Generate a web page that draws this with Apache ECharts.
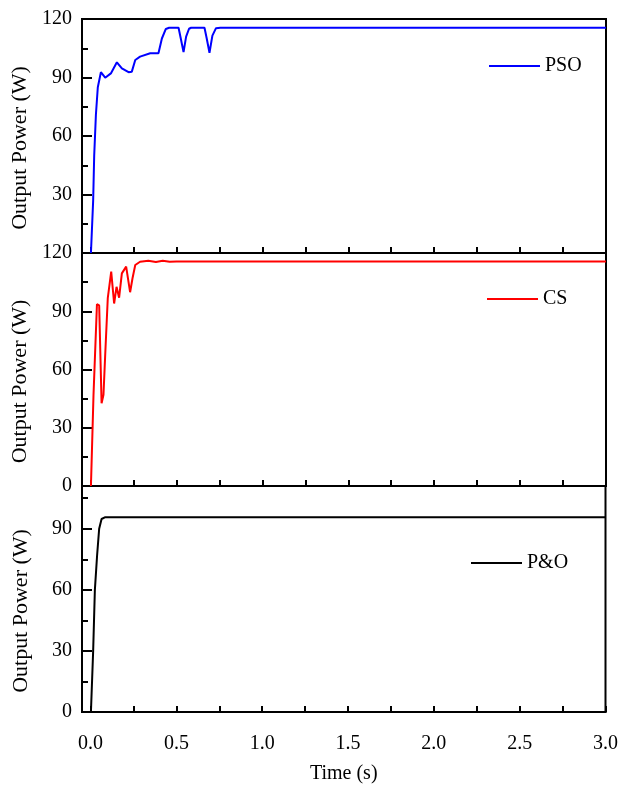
<!DOCTYPE html>
<html lang="en">
<head>
    <meta charset="UTF-8">
    <title>Output Power</title>
    <script src="https://cdn.jsdelivr.net/npm/echarts@6/dist/echarts.min.js"></script>
</head>
<style>
    html, body { margin: 0; padding: 0; background: #fff; }
    #chart { width: 621px; height: 785px; }
</style>
<body>
<div id="chart"></div>
<script type="text/javascript">
    // PSO
    var psoTime  = [0.002, 0.015, 0.021, 0.031, 0.042, 0.060, 0.085, 0.118, 0.153, 0.182, 0.221, 0.240, 0.260, 0.288, 0.347, 0.395, 0.415, 0.438, 0.457, 0.512, 0.525, 0.541, 0.556, 0.573, 0.585, 0.663, 0.676, 0.692, 0.709, 0.730, 0.755, 3.0];
    var psoPower = [0, 27, 50, 71, 85, 92.7, 89.9, 92.1, 97.8, 94.7, 92.7, 93, 99, 100.7, 102.4, 102.4, 110, 114.9, 115.5, 115.5, 110, 103, 111, 115, 115.5, 115.5, 110, 102.7, 111.5, 115.3, 115.5, 115.5];
    // CS
    var csTime  = [0.002, 0.017, 0.037, 0.050, 0.064, 0.075, 0.085, 0.100, 0.120, 0.137, 0.151, 0.166, 0.182, 0.207, 0.230, 0.244, 0.260, 0.288, 0.336, 0.380, 0.420, 0.460, 0.500, 3.0];
    var csPower = [0, 47, 93.6, 93, 42.6, 47, 67.5, 96.7, 110.4, 94, 102.6, 97, 109.5, 113, 99.8, 107, 113.8, 115.5, 116, 115.4, 116, 115.5, 115.6, 115.6];
    // P&O
    var poTime  = [0.002, 0.015, 0.025, 0.038, 0.050, 0.064, 0.083, 3.0];
    var poPower = [0, 30, 60, 77, 90, 94.8, 95.6, 95.6];

    var xLabels = [0, 0.5, 1.0, 1.5, 2.0, 2.5, 3.0];
    var xTicks = [0, 0.25, 0.5, 0.75, 1.0, 1.25, 1.5, 1.75, 2.0, 2.25, 2.5, 2.75, 3.0];
    var yMax = [120, 120, 111];
    var yMinor = [15, 45, 75, 105];

    var seriesNames = ['PSO', 'CS', 'P&O'];
    var seriesColors = ['#0000ff', '#ff0000', '#000000'];
    var seriesTime = [psoTime, csTime, poTime];
    var seriesPower = [psoPower, csPower, poPower];

    var font = 'Liberation Serif';
    var gridTops = [19, 253, 486];
    var gridHeights = [234, 233, 233];
    var legendPos = [[489, 56], [487, 289], [471, 553]];

    var grids = [], xAxes = [], yAxes = [], series = [], legends = [];
    for (var i = 0; i < 3; i++) {
        grids.push({
            left: 82, right: 15, top: gridTops[i], height: gridHeights[i],
            show: true, borderColor: '#000', borderWidth: 2, backgroundColor: 'transparent'
        });
        xAxes.push({
            gridIndex: i, type: 'value', min: -0.05, max: 3,
            axisLine: { show: true, onZero: false, lineStyle: { color: '#000', width: 2 } },
            axisTick: { show: true, inside: true, length: 6, customValues: xTicks, lineStyle: { color: '#000', width: 2 } },
            axisLabel: {
                show: i === 2, customValues: xLabels, margin: 22,
                fontFamily: font, fontSize: 20, color: '#000',
                formatter: function (v) { return v.toFixed(1); }
            },
            splitLine: { show: false },
            name: i === 2 ? 'Time (s)' : '', nameLocation: 'middle', nameGap: 52,
            nameTextStyle: { fontFamily: font, fontSize: 20, color: '#000' }
        });
        // main y axis: labels and major ticks
        yAxes.push({
            gridIndex: i, type: 'value', min: 0, max: yMax[i], interval: 30, position: 'left',
            axisLine: { show: true, onZero: false, lineStyle: { color: '#000', width: 2 } },
            axisTick: { show: true, inside: true, length: 10, lineStyle: { color: '#000', width: 2 } },
            axisLabel: {
                margin: 10, fontFamily: font, fontSize: 20, color: '#000',
                showMinLabel: i !== 0, showMaxLabel: i !== 2
            },
            splitLine: { show: false },
            name: 'Output Power (W)', nameLocation: 'middle', nameGap: 50, nameRotate: 90,
            nameTextStyle: { fontFamily: font, fontSize: 22, color: '#000', padding: [0, 24, 0, 0] }
        });
        // second y axis only for the minor ticks
        yAxes.push({
            gridIndex: i, type: 'value', min: 0, max: yMax[i], position: 'left',
            axisLine: { show: false, onZero: false },
            axisTick: { show: true, inside: true, length: 6, customValues: yMinor, lineStyle: { color: '#000', width: 2 } },
            axisLabel: { show: false },
            splitLine: { show: false }
        });
        series.push({
            name: seriesNames[i], type: 'line', xAxisIndex: i, yAxisIndex: i * 2,
            data: seriesTime[i].map(function (t, k) { return [t, this[k]]; }, seriesPower[i]),
            showSymbol: false, symbol: 'none', smooth: false,
            lineStyle: { color: seriesColors[i], width: 2 },
            itemStyle: { color: seriesColors[i] },
            animation: false
        });
        legends.push({
            data: [seriesNames[i]], left: legendPos[i][0], top: legendPos[i][1], padding: 0,
            icon: 'rect', itemWidth: 51, itemHeight: 2, itemGap: 5,
            textStyle: { fontFamily: font, fontSize: 20, color: '#000' }
        });
    }

    var chart = echarts.init(document.getElementById('chart'));
    chart.setOption({
        backgroundColor: '#fff',
        animation: false,
        grid: grids,
        xAxis: xAxes,
        yAxis: yAxes,
        legend: legends,
        series: series
    });
</script>
</body>
</html>
